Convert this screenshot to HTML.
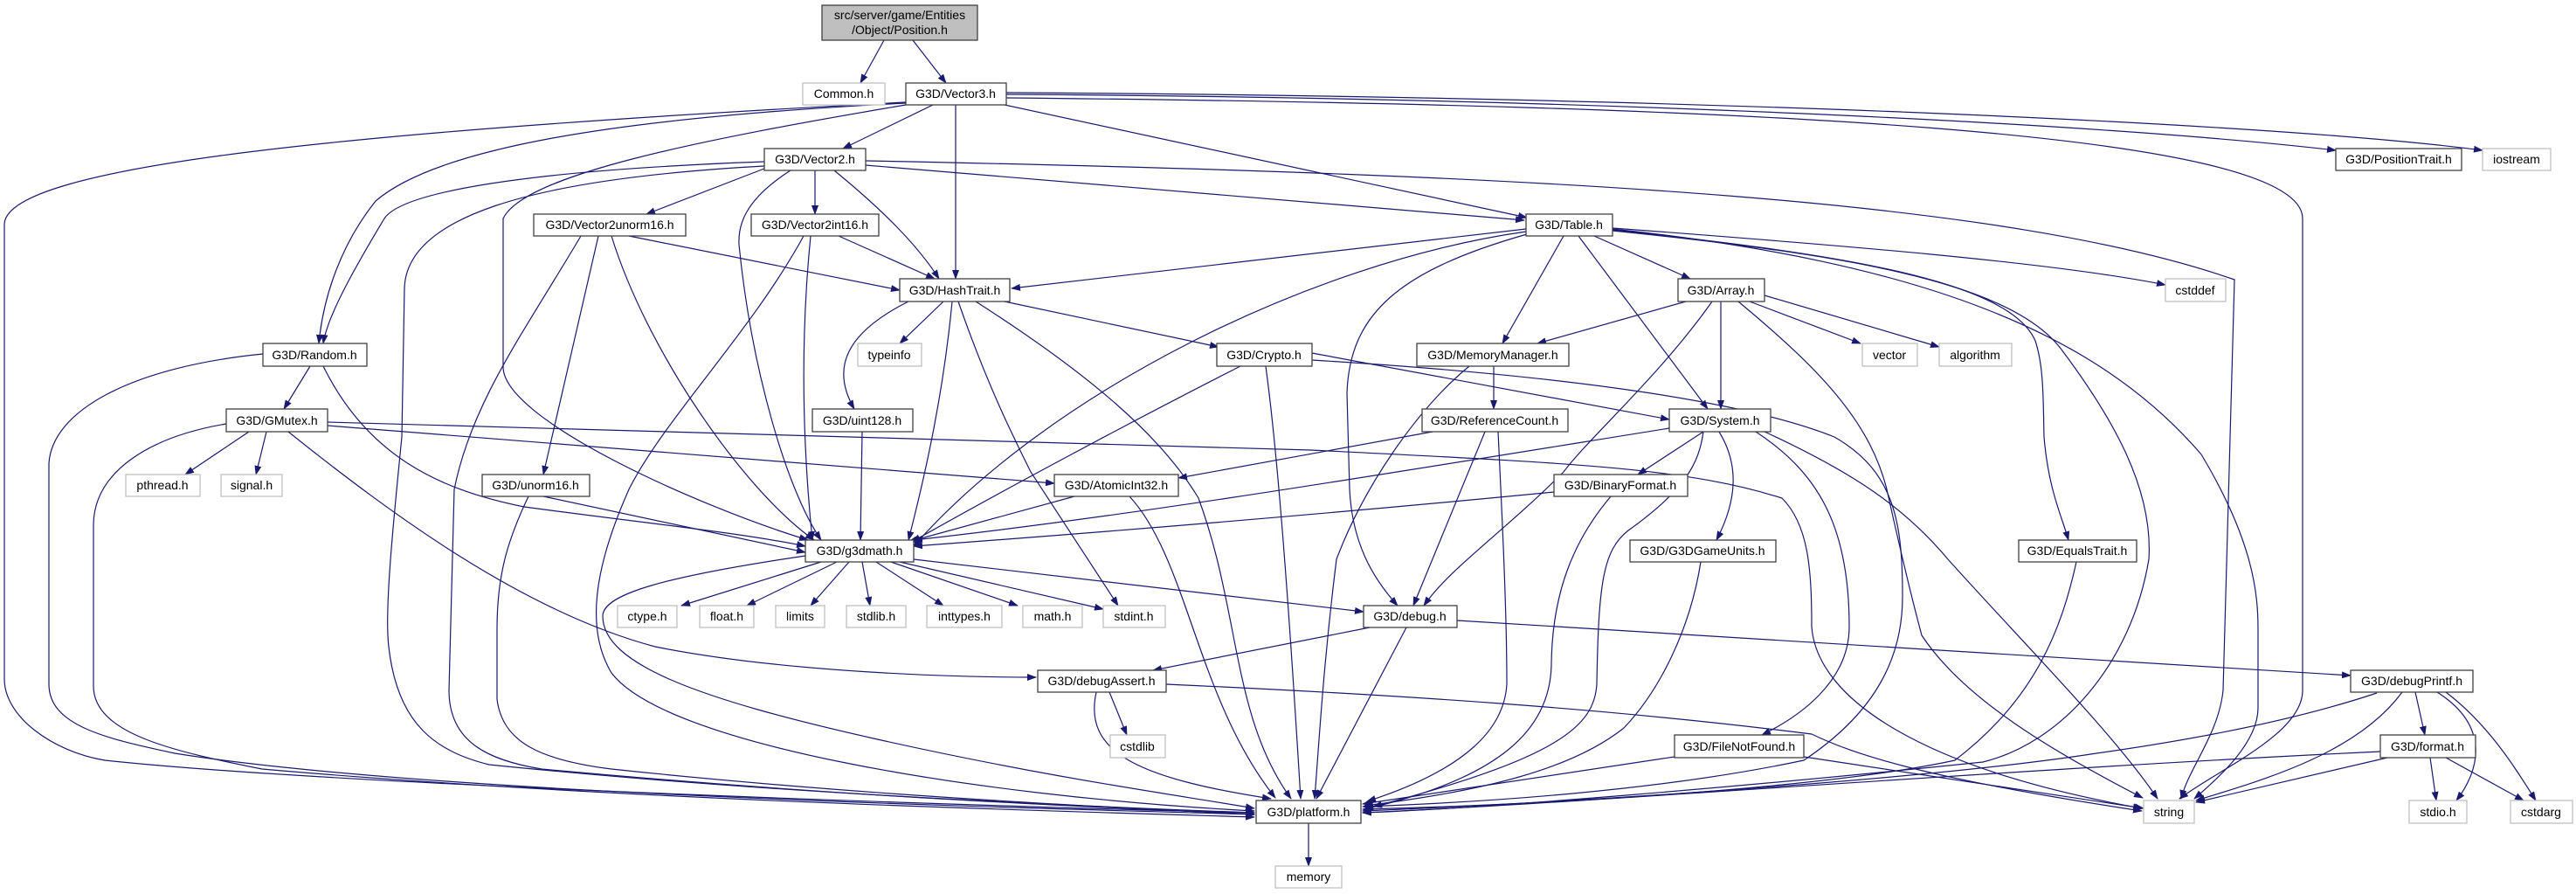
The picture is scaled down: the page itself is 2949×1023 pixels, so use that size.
<!DOCTYPE html>
<html><head><meta charset="utf-8"><style>
html,body{margin:0;padding:0;background:#fff;width:2949px;height:1023px;overflow:hidden}
svg{display:block}
text{font-family:"Liberation Sans",sans-serif;font-size:14px;fill:#000;text-anchor:middle}
.e{fill:none;stroke:#191970;stroke-width:1.2;marker-end:url(#a)}
.n{fill:#fff;stroke:#404040;stroke-width:1.3}
.x{fill:#fff;stroke:#bfbfbf;stroke-width:1.3}
</style></head><body>
<svg width="2949" height="1023" viewBox="0 0 2949 1023" xmlns="http://www.w3.org/2000/svg">
<defs><marker id="a" markerWidth="11" markerHeight="8" refX="10" refY="4" orient="auto" markerUnits="userSpaceOnUse"><path d="M0,0 L11,4 L0,8 z" fill="#191970"/></marker></defs>
<g>
<path class="e" d="M1012,46 L985,95"/>
<path class="e" d="M1045,46 L1083,95"/>
<path class="e" d="M1068,120 L965,170"/>
<path class="e" d="M1094,120 L1094,319"/>
<path class="e" d="M1150,120 L1748,249"/>
<path class="e" d="M1152,108 C1800,112 2400,140 2674,172"/>
<path class="e" d="M1152,106 C1900,110 2600,140 2842,172"/>
<path class="e" d="M1152,112 C2000,120 2636,150 2636,250 L2636,790 C2636,840 2540,880 2495,914"/>
<path class="e" d="M1037,118 C700,135 500,170 430,230 C390,280 370,340 365,393"/>
<path class="e" d="M1037,120 C800,160 600,200 576,250 L576,420 C576,480 800,580 925,618"/>
<path class="e" d="M1037,117 C400,150 5,190 5,257 L5,777 C5,820 60,860 120,870 C400,900 1200,925 1436,930"/>
<path class="e" d="M991,189 L1745,252"/>
<path class="e" d="M991,184 C1800,200 2300,230 2558,320 L2545,790 C2540,840 2505,880 2497,914"/>
<path class="e" d="M875,185 C600,195 460,220 440,250 C410,300 375,360 370,393"/>
<path class="e" d="M880,191 L740,245"/>
<path class="e" d="M933,195 L933,245"/>
<path class="e" d="M955,195 C1010,240 1050,280 1075,319"/>
<path class="e" d="M905,195 C850,230 845,260 846,280 C860,420 900,560 940,618"/>
<path class="e" d="M875,190 C600,205 465,250 463,330 L460,500 C450,600 440,700 445,740 C455,830 500,860 560,875 C900,910 1300,925 1436,930"/>
<path class="e" d="M720,270 L1030,332"/>
<path class="e" d="M685,270 L622,543"/>
<path class="e" d="M700,270 C740,400 850,560 932,618"/>
<path class="e" d="M665,270 C600,380 540,460 520,560 L514,790 C514,850 560,870 620,880 C1000,915 1300,925 1436,932"/>
<path class="e" d="M960,270 L1070,319"/>
<path class="e" d="M928,270 C915,400 920,520 930,618"/>
<path class="e" d="M920,270 C860,380 760,480 720,560 C680,650 670,720 700,770 C760,850 1100,910 1436,928"/>
<path class="e" d="M1747,262 L1158,330"/>
<path class="e" d="M1747,265 C1500,300 1200,450 1046,625"/>
<path class="e" d="M1748,268 C1600,310 1545,360 1542,450 L1545,560 C1548,620 1570,660 1600,693"/>
<path class="e" d="M1790,270 L1720,393"/>
<path class="e" d="M1807,270 L1955,468"/>
<path class="e" d="M1825,270 L1935,319"/>
<path class="e" d="M1846,261 C2100,280 2350,300 2479,326"/>
<path class="e" d="M1846,263 C2100,290 2300,320 2330,390 C2340,420 2339,460 2340,500 C2345,560 2360,590 2368,618"/>
<path class="e" d="M1846,264 C2100,290 2300,320 2360,400 C2420,480 2465,560 2460,640 C2440,760 2360,850 2270,872 C2000,900 1700,925 1560,930"/>
<path class="e" d="M1846,262 C2200,300 2400,380 2520,520 C2580,620 2585,680 2585,720 L2585,810 C2585,850 2540,890 2512,914"/>
<path class="e" d="M1080,345 L1030,393"/>
<path class="e" d="M1040,345 C970,380 950,420 978,468"/>
<path class="e" d="M1090,345 C1080,450 1060,540 1040,618"/>
<path class="e" d="M1097,345 C1130,440 1160,500 1180,540 L1280,693"/>
<path class="e" d="M1117,345 C1250,430 1330,500 1372,570 C1420,700 1410,820 1478,914"/>
<path class="e" d="M1150,345 L1395,397"/>
<path class="e" d="M301,405 C150,420 60,470 56,530 L56,783 C56,830 120,845 200,862 C500,910 1200,925 1436,932"/>
<path class="e" d="M355,419 L325,468"/>
<path class="e" d="M370,419 C420,520 500,560 600,580 C750,600 850,610 922,625"/>
<path class="e" d="M259,485 C170,500 108,540 107,600 L107,785 C107,840 200,860 300,880 C700,915 1200,928 1436,935"/>
<path class="e" d="M285,494 L212,543"/>
<path class="e" d="M305,494 L293,543"/>
<path class="e" d="M330,494 C450,590 600,700 750,740 C900,770 1100,775 1186,775"/>
<path class="e" d="M375,487 L1207,553"/>
<path class="e" d="M375,483 L1500,515 C1800,530 1930,535 2040,570 C2070,600 2074,650 2074,717 C2080,800 2200,880 2452,925"/>
<path class="e" d="M1502,412 C1800,430 2000,460 2100,500 C2170,540 2178,600 2178,683 C2178,760 2140,820 2065,870 C1900,905 1700,918 1560,923"/>
<path class="e" d="M1420,419 C1300,480 1150,560 1044,620"/>
<path class="e" d="M1449,419 C1460,500 1472,633 1489,914"/>
<path class="e" d="M1502,404 L1911,480"/>
<path class="e" d="M987,494 L985,618"/>
<path class="e" d="M1710,419 L1710,468"/>
<path class="e" d="M1682,419 C1620,470 1560,560 1530,640 C1515,760 1510,850 1505,914"/>
<path class="e" d="M1930,345 L1760,393"/>
<path class="e" d="M1970,345 L1970,468"/>
<path class="e" d="M1960,345 C1900,430 1820,500 1790,540 C1720,610 1660,650 1630,693"/>
<path class="e" d="M2003,345 L2130,393"/>
<path class="e" d="M2020,338 L2220,397"/>
<path class="e" d="M1990,345 C2080,420 2140,480 2160,560 C2180,650 2190,690 2200,727 C2248,800 2350,860 2453,913"/>
<path class="e" d="M2020,494 C2120,540 2180,580 2230,640 C2320,740 2420,840 2470,914"/>
<path class="e" d="M1911,490 C1600,540 1300,590 1046,618"/>
<path class="e" d="M1779,563 C1500,590 1250,610 1046,625"/>
<path class="e" d="M1950,494 L1875,543"/>
<path class="e" d="M1968,494 C1990,530 1990,570 1965,618"/>
<path class="e" d="M2010,494 C2080,540 2117,600 2117,717 C2117,780 2060,820 2017,841"/>
<path class="e" d="M1950,494 C1945,530 1930,560 1864,607 C1835,630 1830,667 1828,783 C1825,830 1787,867 1572,923"/>
<path class="e" d="M1844,568 C1800,620 1777,680 1776,760 C1775,833 1720,890 1562,926"/>
<path class="e" d="M1947,643 C1935,720 1900,790 1859,833 C1800,880 1700,905 1562,922"/>
<path class="e" d="M1640,494 L1349,547"/>
<path class="e" d="M1700,494 L1618,693"/>
<path class="e" d="M1715,494 C1720,600 1725,700 1725,783 C1722,833 1680,880 1565,917"/>
<path class="e" d="M1230,568 L1040,620"/>
<path class="e" d="M1293,568 C1360,640 1370,800 1460,913"/>
<path class="e" d="M622,568 L922,632"/>
<path class="e" d="M605,568 C580,620 569,660 569,720 L569,800 C575,850 620,870 700,880 C1000,912 1300,925 1436,932"/>
<path class="e" d="M922,636 C760,660 690,680 690,705 C690,760 800,800 1000,845 C1200,890 1350,910 1436,925"/>
<path class="e" d="M940,643 L780,693"/>
<path class="e" d="M958,643 L855,693"/>
<path class="e" d="M972,643 L928,693"/>
<path class="e" d="M987,643 L996,693"/>
<path class="e" d="M1003,643 L1080,693"/>
<path class="e" d="M1020,643 L1165,693"/>
<path class="e" d="M1030,643 L1263,697"/>
<path class="e" d="M1046,640 L1561,700"/>
<path class="e" d="M1568,718 L1320,767"/>
<path class="e" d="M1610,718 L1507,914"/>
<path class="e" d="M1668,710 L2691,773"/>
<path class="e" d="M1270,792 L1290,841"/>
<path class="e" d="M1255,792 C1240,860 1300,890 1455,914"/>
<path class="e" d="M1335,783 C1600,795 1835,810 2074,840 C2122,863 2200,890 2452,928"/>
<path class="e" d="M2721,793 C2640,820 2535,843 2400,862 C2200,893 1800,918 1560,928"/>
<path class="e" d="M2750,792 C2700,860 2600,890 2514,916"/>
<path class="e" d="M2765,792 L2776,841"/>
<path class="e" d="M2790,792 C2850,830 2840,880 2812,916"/>
<path class="e" d="M2800,792 C2850,830 2880,880 2903,916"/>
<path class="e" d="M2725,860 C2300,880 1800,920 1560,930"/>
<path class="e" d="M2733,867 L2514,918"/>
<path class="e" d="M2782,867 L2789,916"/>
<path class="e" d="M2800,867 L2889,916"/>
<path class="e" d="M1917,866 L1560,920"/>
<path class="e" d="M2065,866 L2454,925"/>
<path class="e" d="M2377,643 C2360,720 2330,800 2238,870 C2100,900 1800,920 1560,926"/>
<path class="e" d="M1498,942 L1498,991"/>
</g>
<g>
<rect x="941" y="6" width="178" height="40" fill="#bfbfbf" stroke="#404040" stroke-width="1.3"/>
<text x="1030" y="22">src/server/game/Entities</text><text x="1030" y="39">/Object/Position.h</text>
<rect class="x" x="919" y="95" width="94" height="25"/><text x="966" y="112">Common.h</text>
<rect class="n" x="1037" y="95" width="115" height="25"/><text x="1094" y="112">G3D/Vector3.h</text>
<rect class="n" x="875" y="170" width="116" height="25"/><text x="933" y="187">G3D/Vector2.h</text>
<rect class="n" x="2674" y="170" width="144" height="25"/><text x="2746" y="187">G3D/PositionTrait.h</text>
<rect class="x" x="2842" y="170" width="78" height="25"/><text x="2881" y="187">iostream</text>
<rect class="n" x="611" y="245" width="174" height="25"/><text x="698" y="262">G3D/Vector2unorm16.h</text>
<rect class="n" x="860" y="245" width="146" height="25"/><text x="933" y="262">G3D/Vector2int16.h</text>
<rect class="n" x="1747" y="245" width="99" height="25"/><text x="1796" y="262">G3D/Table.h</text>
<rect class="n" x="1030" y="319" width="126" height="26"/><text x="1093" y="337">G3D/HashTrait.h</text>
<rect class="n" x="1921" y="319" width="99" height="26"/><text x="1970" y="337">G3D/Array.h</text>
<rect class="x" x="2479" y="319" width="69" height="26"/><text x="2513" y="337">cstddef</text>
<rect class="n" x="301" y="393" width="119" height="26"/><text x="360" y="411">G3D/Random.h</text>
<rect class="x" x="982" y="393" width="73" height="26"/><text x="1018" y="411">typeinfo</text>
<rect class="n" x="1393" y="393" width="109" height="26"/><text x="1447" y="411">G3D/Crypto.h</text>
<rect class="n" x="1622" y="393" width="174" height="26"/><text x="1709" y="411">G3D/MemoryManager.h</text>
<rect class="x" x="2132" y="393" width="63" height="26"/><text x="2163" y="411">vector</text>
<rect class="x" x="2220" y="393" width="83" height="26"/><text x="2261" y="411">algorithm</text>
<rect class="n" x="259" y="468" width="116" height="26"/><text x="317" y="486">G3D/GMutex.h</text>
<rect class="n" x="930" y="468" width="115" height="26"/><text x="987" y="486">G3D/uint128.h</text>
<rect class="n" x="1628" y="468" width="167" height="26"/><text x="1711" y="486">G3D/ReferenceCount.h</text>
<rect class="n" x="1911" y="468" width="116" height="26"/><text x="1969" y="486">G3D/System.h</text>
<rect class="x" x="144" y="543" width="85" height="25"/><text x="186" y="560">pthread.h</text>
<rect class="x" x="253" y="543" width="70" height="25"/><text x="288" y="560">signal.h</text>
<rect class="n" x="552" y="543" width="123" height="25"/><text x="613" y="560">G3D/unorm16.h</text>
<rect class="n" x="1207" y="543" width="142" height="25"/><text x="1278" y="560">G3D/AtomicInt32.h</text>
<rect class="n" x="1779" y="543" width="153" height="25"/><text x="1855" y="560">G3D/BinaryFormat.h</text>
<rect class="n" x="922" y="618" width="124" height="25"/><text x="984" y="635">G3D/g3dmath.h</text>
<rect class="n" x="1866" y="618" width="167" height="25"/><text x="1949" y="635">G3D/G3DGameUnits.h</text>
<rect class="n" x="2311" y="618" width="135" height="25"/><text x="2378" y="635">G3D/EqualsTrait.h</text>
<rect class="x" x="707" y="693" width="68" height="25"/><text x="741" y="710">ctype.h</text>
<rect class="x" x="801" y="693" width="62" height="25"/><text x="832" y="710">float.h</text>
<rect class="x" x="888" y="693" width="56" height="25"/><text x="916" y="710">limits</text>
<rect class="x" x="969" y="693" width="68" height="25"/><text x="1003" y="710">stdlib.h</text>
<rect class="x" x="1061" y="693" width="86" height="25"/><text x="1104" y="710">inttypes.h</text>
<rect class="x" x="1171" y="693" width="68" height="25"/><text x="1205" y="710">math.h</text>
<rect class="x" x="1263" y="693" width="71" height="25"/><text x="1298" y="710">stdint.h</text>
<rect class="n" x="1561" y="693" width="107" height="25"/><text x="1614" y="710">G3D/debug.h</text>
<rect class="n" x="1188" y="767" width="147" height="25"/><text x="1261" y="784">G3D/debugAssert.h</text>
<rect class="n" x="2691" y="767" width="140" height="25"/><text x="2761" y="784">G3D/debugPrintf.h</text>
<rect class="x" x="1271" y="841" width="63" height="26"/><text x="1302" y="859">cstdlib</text>
<rect class="n" x="1917" y="841" width="148" height="26"/><text x="1991" y="859">G3D/FileNotFound.h</text>
<rect class="n" x="2725" y="841" width="109" height="26"/><text x="2779" y="859">G3D/format.h</text>
<rect class="n" x="1438" y="916" width="120" height="26"/><text x="1498" y="934">G3D/platform.h</text>
<rect class="x" x="2454" y="916" width="58" height="26"/><text x="2483" y="934">string</text>
<rect class="x" x="2758" y="916" width="66" height="26"/><text x="2791" y="934">stdio.h</text>
<rect class="x" x="2874" y="916" width="71" height="26"/><text x="2909" y="934">cstdarg</text>
<rect class="x" x="1460" y="991" width="76" height="25"/><text x="1498" y="1008">memory</text>
</g>
</svg>
</body></html>
